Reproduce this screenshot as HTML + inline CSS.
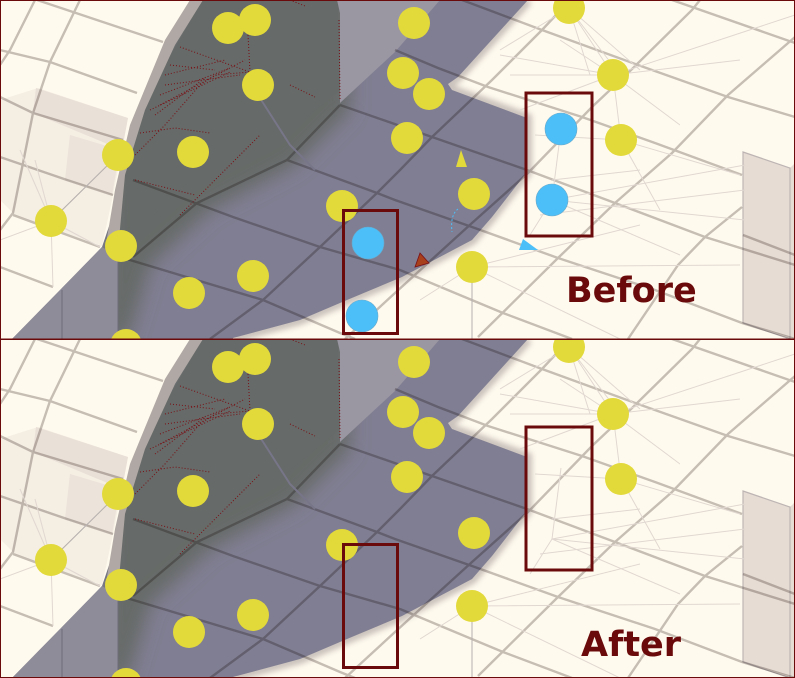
<!DOCTYPE html>
<html>
<head>
<meta charset="utf-8">
<title>Before and After Shadow Comparison</title>
<style>
html,body{margin:0;padding:0;background:#fffaee;}
svg{display:block;}
.label{font-family:"DejaVu Sans","Liberation Sans",sans-serif;font-weight:bold;fill:#6b0a0a;}
.frame{fill:none;stroke:#6b0a0a;stroke-width:3;}
.y{fill:#e2d93b;}
.b{fill:#4cbff9;stroke:#6aa9c8;stroke-width:.6;}
</style>
</head>
<body>
<svg width="795" height="678" viewBox="0 0 795 678" xmlns="http://www.w3.org/2000/svg">
<defs>
<filter id="blur6" x="-20%" y="-20%" width="140%" height="140%"><feGaussianBlur stdDeviation="9"/></filter>
<filter id="blur2" x="-10%" y="-10%" width="120%" height="120%"><feGaussianBlur stdDeviation="3"/></filter>
<clipPath id="shadowClip"><path d="M203 0L528 0L458 77L448 84L452 90L527 118L527 172L492 217L472 240L402 277L347 300L300 320L233 338L233 339L12 339L62 288L102 247L118 200L133 120L170 40Z"/></clipPath>
<g id="scene">
  <rect width="795" height="339" fill="#fffaee"/>
  <!-- left wall -->
  <path d="M38 88L128 118L112 200L102 246L15 215L0 200L0 100Z" fill="#f5eee3"/>
  <path d="M36 88L128 118L122 150L33 113Z" fill="#e9e0d7"/>
  <path d="M70 135L120 150L112 195L65 180Z" fill="#ece3da"/>
  <!-- right box -->
  <path d="M743 152L790 168L795 163L795 339L743 323Z" fill="#e6dcd3"/>
  <path d="M743 152L790 168L790 339L743 323Z" fill="none" stroke="#bdb5b4" stroke-width="1.2"/>
  <!-- soft shadow edge -->
  <path d="M528 0L458 77L448 84L452 90L527 118L527 172L492 217L472 240L402 277L347 300L300 320L233 338" fill="none" stroke="#c9c1bb" stroke-width="10" filter="url(#blur2)"/>
  <!-- shadow -->
  <path d="M203 0L528 0L458 77L448 84L452 90L527 118L527 172L492 217L472 240L402 277L347 300L300 320L233 338L233 339L12 339L62 288L102 247L118 200L133 120L170 40Z" fill="#807e92"/>
  <g clip-path="url(#shadowClip)">
    <path d="M195 -15L350 -15L350 110L295 165L210 210L150 265L128 339L105 339L110 170L140 100Z" fill="#666a68" filter="url(#blur6)"/>
    <path d="M203 0L338 0L340 90L285 135L190 180L133 235L122 150L150 90Z" fill="#666a68"/>
  </g>
  <!-- pillar and wall sides -->
  <path d="M337 0L340 13L340 103L395 52L440 0Z" fill="#9a96a2"/>
  <path d="M190 0L203 0L175 45L145 110L125 175L118 250L105 250L115 190L130 125L165 40Z" fill="#b0a8a4"/>
  <path d="M12 339L62 288L102 247L118 257L118 339Z" fill="#8f8c99"/>
  <path d="M62 290L62 339M118 257L118 339" stroke="#6d6c78" stroke-width="1" fill="none"/>
  <!-- road grid -->
  <g style="mix-blend-mode:multiply" fill="none" stroke="#c6c1c0" stroke-width="2.4">
    <path d="M672 0L795 43"/>
    <path d="M462 0L542 30L638 65L728 97L795 117"/>
    <path d="M395 50L438 68L488 87L582 117L655 143L742 175"/>
    <path d="M340 105L432 137L527 170L615 203L705 237L795 265"/>
    <path d="M287 160L377 193L395 200L472 227L558 258L655 290L742 323L795 339"/>
    <path d="M133 180L233 217L320 247L400 270L455 293L503 313L572 339"/>
    <path d="M0 267L53 287"/>
    <path d="M120 257L263 300L340 333L355 339"/>
    <path d="M37 0L163 42"/>
    <path d="M0 50L50 62L137 93"/>
    <path d="M0 97L33 113L123 140"/>
    <path d="M0 157L67 180L113 195"/>
    <path d="M13 215L100 247"/>
    <path d="M478 337L558 258L615 203L672 153L728 95L795 37"/>
    <path d="M628 339L678 265L705 237L742 207"/>
    <path d="M345 339L370 316L395 293L472 223L528 173L592 107L628 73L692 10L700 0"/>
    <path d="M210 339L263 300L320 247L377 193L400 170L432 137L492 80L542 30L570 0"/>
    <path d="M133 257L197 203L287 160L340 105"/>
    <path d="M80 0L50 62L33 113L23 163L13 213L0 230"/>
    <path d="M35 0L10 50L0 65"/>
    <path d="M743 235L795 255"/>
  </g>
  <!-- thin spokes -->
  <g fill="none" stroke="#e0d8d1" stroke-width="1">
    <path d="M613 75L510 75M613 75L500 55M613 75L569 8M613 75L795 15M613 75L680 125M613 75L740 60M613 75L560 40M613 75L520 110"/>
    <path d="M621 140L613 75M621 140L740 175M621 140L535 135M621 140L660 210"/>
    <path d="M552 200L561 129M552 200L745 165M552 200L745 220M552 200L530 235M552 200L680 255M552 180L640 170M540 215L745 190"/>
    <path d="M472 267L740 265M472 267L472 339M472 267L620 339M472 267L420 300M472 267L640 225"/>
    <path d="M569 8L640 70M569 8L590 75M569 8L500 50M569 8L620 75"/>
    <path d="M51 221L0 240M51 221L53 287M51 221L118 155M51 221L20 150M51 221L100 247M51 221L35 160"/>
  </g>
  <path d="M51 221L118 155M472 267L472 339" fill="none" stroke="#b6b0ae" stroke-width="1"/>
  <path d="M258 95L290 145L315 170" fill="none" stroke="#777588" stroke-width="2"/>
  <!-- red debris -->
  <g fill="none" stroke="#7a1016" stroke-width="1" stroke-dasharray="1 2">
    <path d="M180 47L250 72M135 155L165 125L200 85L215 75L250 72M140 133L175 128L210 133"/>
    <path d="M165 85L240 75M160 95L230 68M155 115L205 78M170 65L215 70M150 110L230 72M165 75L225 60M160 105L245 60"/>
    <path d="M250 72L248 35M290 85L315 97M135 180L195 195M180 215L260 135"/>
    <path d="M339 20L340 100M290 0L305 6"/>
  </g>
</g>
</defs>

<g>
  <svg x="0" y="0" width="795" height="339" viewBox="0 0 795 339" overflow="hidden">
    <use href="#scene"/>
    <g>
      <circle class="y" cx="228" cy="28" r="16"/>
      <circle class="y" cx="255" cy="20" r="16"/>
      <circle class="y" cx="258" cy="85" r="16"/>
      <circle class="y" cx="118" cy="155" r="16"/>
      <circle class="y" cx="193" cy="152" r="16"/>
      <circle class="y" cx="51" cy="221" r="16"/>
      <circle class="y" cx="121" cy="246" r="16"/>
      <circle class="y" cx="189" cy="293" r="16"/>
      <circle class="y" cx="253" cy="276" r="16"/>
      <circle class="y" cx="126" cy="345" r="16"/>
      <circle class="y" cx="342" cy="206" r="16"/>
      <circle class="y" cx="414" cy="23" r="16"/>
      <circle class="y" cx="403" cy="73" r="16"/>
      <circle class="y" cx="429" cy="94" r="16"/>
      <circle class="y" cx="407" cy="138" r="16"/>
      <circle class="y" cx="474" cy="194" r="16"/>
      <circle class="y" cx="472" cy="267" r="16"/>
      <circle class="y" cx="569" cy="8" r="16"/>
      <circle class="y" cx="613" cy="75" r="16"/>
      <circle class="y" cx="621" cy="140" r="16"/>
    </g>
    <g>
      <circle class="b" cx="561" cy="129" r="16"/>
      <circle class="b" cx="552" cy="200" r="16"/>
      <circle class="b" cx="368" cy="243" r="16"/>
      <circle class="b" cx="362" cy="316" r="16"/>
    </g>
  </svg>
  <path d="M461 150L456 167L467 167Z" fill="#e2d93b"/>
  <path d="M519 250L523 239L538 250Z" fill="#4cbff9"/>
  <path d="M415 267L420 253L429 263Z" fill="#a8401c" stroke="#7a1016" stroke-width=".8"/>
  <path d="M458 209Q450 215 452 232" fill="none" stroke="#4cbff9" stroke-width="1" stroke-dasharray="2 2"/>
  <rect class="frame" x="526" y="93" width="66" height="143"/>
  <rect class="frame" x="343.500" y="210.500" width="54" height="123"/>
  <text class="label" x="566" y="302" font-size="35">Before</text>
  <rect x=".5" y=".5" width="794" height="338.500" fill="none" stroke="#6b0a0a" stroke-width="1"/>
</g>

<g transform="translate(0 339)">
  <svg x="0" y="0" width="795" height="339" viewBox="0 0 795 339" overflow="hidden">
    <use href="#scene"/>
    <g>
      <circle class="y" cx="228" cy="28" r="16"/>
      <circle class="y" cx="255" cy="20" r="16"/>
      <circle class="y" cx="258" cy="85" r="16"/>
      <circle class="y" cx="118" cy="155" r="16"/>
      <circle class="y" cx="193" cy="152" r="16"/>
      <circle class="y" cx="51" cy="221" r="16"/>
      <circle class="y" cx="121" cy="246" r="16"/>
      <circle class="y" cx="189" cy="293" r="16"/>
      <circle class="y" cx="253" cy="276" r="16"/>
      <circle class="y" cx="126" cy="345" r="16"/>
      <circle class="y" cx="342" cy="206" r="16"/>
      <circle class="y" cx="414" cy="23" r="16"/>
      <circle class="y" cx="403" cy="73" r="16"/>
      <circle class="y" cx="429" cy="94" r="16"/>
      <circle class="y" cx="407" cy="138" r="16"/>
      <circle class="y" cx="474" cy="194" r="16"/>
      <circle class="y" cx="472" cy="267" r="16"/>
      <circle class="y" cx="569" cy="8" r="16"/>
      <circle class="y" cx="613" cy="75" r="16"/>
      <circle class="y" cx="621" cy="140" r="16"/>
    </g>
  </svg>
  <rect class="frame" x="526" y="88" width="66" height="143"/>
  <rect class="frame" x="343.500" y="205.500" width="54" height="123"/>
  <text class="label" x="581" y="317" font-size="35">After</text>
  <rect x=".5" y=".5" width="794" height="338" fill="none" stroke="#6b0a0a" stroke-width="1"/>
</g>
</svg>
</body>
</html>
